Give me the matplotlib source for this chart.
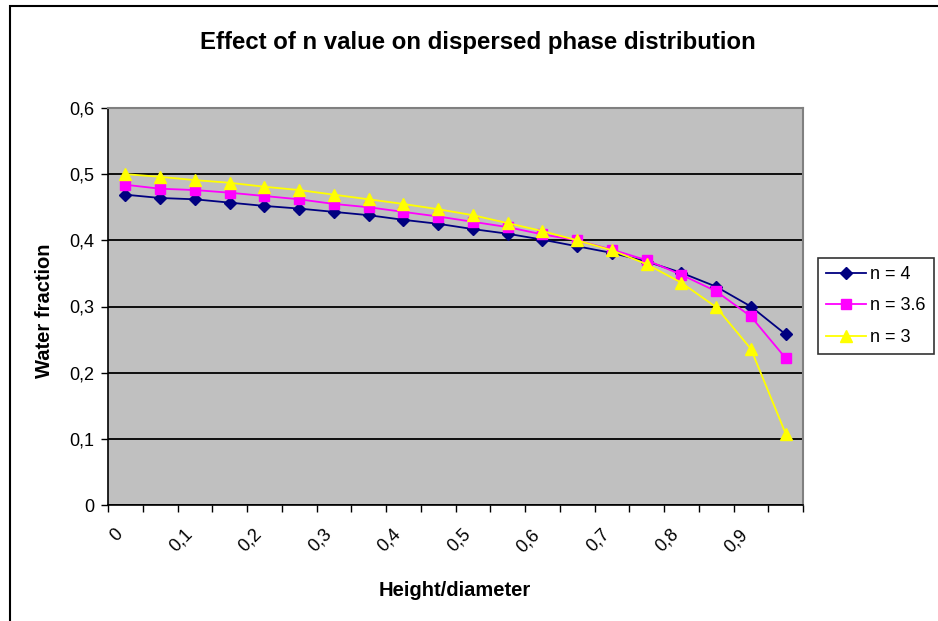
import matplotlib
matplotlib.use("Agg")
import matplotlib.pyplot as plt
import matplotlib.transforms as mtransforms
from matplotlib.patches import Rectangle
import numpy as np

# height/diameter class centres
x_vals = [0.025, 0.075, 0.125, 0.175, 0.225, 0.275, 0.325, 0.375, 0.425, 0.475,
          0.525, 0.575, 0.625, 0.675, 0.725, 0.775, 0.825, 0.875, 0.925, 0.975]

n4 = [0.469, 0.464, 0.462, 0.457, 0.452, 0.448, 0.443, 0.438, 0.431, 0.425,
      0.417, 0.410, 0.401, 0.391, 0.381, 0.368, 0.351, 0.330, 0.300, 0.258]
n36 = [0.484, 0.478, 0.476, 0.472, 0.467, 0.462, 0.455, 0.450, 0.443, 0.436,
       0.428, 0.420, 0.409, 0.400, 0.386, 0.370, 0.348, 0.323, 0.285, 0.222]
n3 = [0.500, 0.496, 0.491, 0.487, 0.481, 0.476, 0.469, 0.462, 0.455, 0.447,
      0.438, 0.426, 0.414, 0.400, 0.385, 0.364, 0.336, 0.299, 0.236, 0.108]

series_labels = ["n = 4", "n = 3.6", "n = 3"]
x_ticklabels = ["0", "0,1", "0,2", "0,3", "0,4", "0,5", "0,6", "0,7", "0,8", "0,9"]
y_ticklabels = ["0", "0,1", "0,2", "0,3", "0,4", "0,5", "0,6"]

plt.rcParams['font.family'] = ['Liberation Sans', 'DejaVu Sans']

fig = plt.figure(figsize=(9.38, 6.21), dpi=100)
W, H = 938, 621

# outer chart frame (cut off at right and bottom like the source)
fig.patches.append(Rectangle((10 / W, -0.1), 1.2, 1 - 6 / H + 0.1, transform=fig.transFigure,
                             fill=False, edgecolor='black', linewidth=1.5))

ax = fig.add_axes([108 / W, 1 - 505 / H, (803 - 108) / W, (505 - 108) / H])
ax.set_facecolor('#c0c0c0')

ax.plot(x_vals, n4, color='#000080', marker='D', markersize=6, linewidth=1.3, label=series_labels[0])
ax.plot(x_vals, n36, color='#ff00ff', marker='s', markersize=7, linewidth=1.3, label=series_labels[1])
ax.plot(x_vals, n3, color='#ffff00', marker='^', markersize=8, linewidth=1.3, label=series_labels[2])

ax.set_xlim(0, 1)
ax.set_ylim(0, 0.6)

yt = np.arange(0, 0.61, 0.1)
ax.set_yticks(yt)
ax.set_yticklabels(y_ticklabels, fontsize=13)
ax.yaxis.grid(True, color='black', linewidth=1.3)
ax.set_axisbelow(True)

ax.set_xticks(np.arange(0, 1.001, 0.05))
xl = []
for i in range(21):
    if i % 2 == 0 and i // 2 < len(x_ticklabels):
        xl.append(x_ticklabels[i // 2])
    else:
        xl.append("")
ax.set_xticklabels(xl, fontsize=13, rotation=45, ha='right', va='top', rotation_mode='anchor')
ax.tick_params(axis='x', length=5, width=1, pad=10)
ax.tick_params(axis='y', length=5, width=1, pad=5)
shift = mtransforms.ScaledTranslation(6 / 100, 0, fig.dpi_scale_trans)
for lab in ax.get_xticklabels():
    lab.set_transform(lab.get_transform() + shift)

for side in ['left', 'bottom']:
    ax.spines[side].set_color('black')
    ax.spines[side].set_linewidth(1.2)
for side in ['top', 'right']:
    ax.spines[side].set_color('#808080')
    ax.spines[side].set_linewidth(1.5)

fig.text(478 / W, 1 - 42 / H, "Effect of n value on dispersed phase distribution",
         ha='center', va='center', fontsize=17.3, fontweight='bold')
fig.text(455 / W, 1 - 590 / H, "Height/diameter", ha='center', va='center',
         fontsize=14.5, fontweight='bold')
fig.text(45 / W, 1 - 311 / H, "Water fraction", ha='center', va='center',
         rotation=90, fontsize=14.5, fontweight='bold')

leg = ax.legend(loc='center left', bbox_to_anchor=(818 / W, 1 - 306 / H),
                bbox_transform=fig.transFigure, fontsize=13, frameon=True,
                fancybox=False, edgecolor='black', handlelength=2.2,
                borderpad=0.45, labelspacing=0.8, handletextpad=0.25, borderaxespad=0)
leg.get_frame().set_linewidth(1.2)

fig.savefig("out.png", dpi=100, facecolor='white')
